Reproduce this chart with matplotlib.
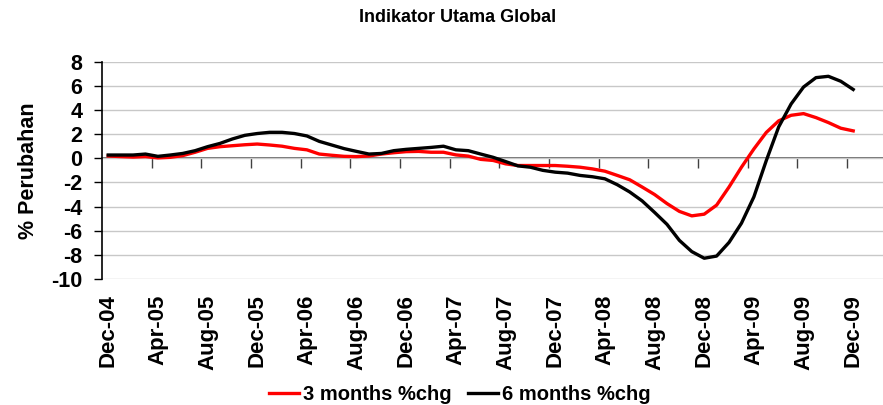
import numpy as np
import pandas as pd
import matplotlib
matplotlib.use("Agg")
import matplotlib.pyplot as plt

plt.rcParams['font.family'] = ['Liberation Sans', 'DejaVu Sans']
plt.rcParams['font.weight'] = 'bold'
plt.rcParams['axes.unicode_minus'] = False

# monthly data, Dec-04 .. Dec-09
months = pd.date_range('2004-12-01', '2009-12-01', freq='MS')

chg_3m = [0.19, 0.14, 0.10, 0.14, 0.03, 0.08, 0.22, 0.50, 0.82, 0.96,
          1.04, 1.12, 1.18, 1.10, 1.00, 0.82, 0.70, 0.35, 0.25, 0.16,
          0.14, 0.19, 0.35, 0.46, 0.55, 0.57, 0.50, 0.50, 0.28, 0.18,
          -0.09, -0.18, -0.46, -0.60, -0.60, -0.60, -0.60, -0.66, -0.74, -0.88,
          -1.07, -1.42, -1.78, -2.38, -3.00, -3.75, -4.40, -4.77, -4.63, -3.88,
          -2.38, -0.74, 0.77, 2.14, 3.10, 3.56, 3.70, 3.37, 2.96, 2.49,
          2.27]

chg_6m = [0.27, 0.27, 0.27, 0.35, 0.16, 0.27, 0.40, 0.63, 0.96, 1.23,
          1.60, 1.90, 2.05, 2.15, 2.15, 2.05, 1.85, 1.40, 1.10, 0.80,
          0.57, 0.35, 0.40, 0.63, 0.74, 0.82, 0.90, 1.00, 0.70, 0.63,
          0.35, 0.08, -0.27, -0.63, -0.74, -1.00, -1.15, -1.23, -1.42, -1.53,
          -1.70, -2.19, -2.79, -3.53, -4.48, -5.47, -6.80, -7.73, -8.28, -8.10,
          -6.97, -5.38, -3.20, -0.19, 2.60, 4.50, 5.90, 6.68, 6.79, 6.38,
          5.70]

labels = [m.strftime('%b-%y') for m in months]
x = np.arange(len(months))

fig = plt.figure(figsize=(8.83, 4.05), dpi=100)
ax = fig.add_axes([102 / 883, 1 - 279 / 405, 1 - 102 / 883, (279 - 61.7) / 405])

ax.plot(x, chg_3m, color='#ff0000', lw=2.4, label='3 months %chg', zorder=3)
ax.plot(x, chg_6m, color='black', lw=2.4, label='6 months %chg', zorder=4)

ax.set_ylim(-10, 8)
ax.set_xlim(-0.5, 62.4)
ax.set_yticks(np.arange(-10, 9, 2))
ax.yaxis.grid(True, color='#c8c8c8', lw=1)
ax.set_axisbelow(True)
ax.tick_params(axis='y', length=6, width=1, labelsize=15.5, pad=8)
for lab in ax.get_yticklabels():
    lab.set_fontweight('bold')

# category labels every 4 months at the bottom
ax.set_xticks(x[::4])
ax.set_xticklabels(labels[::4], rotation=90, fontsize=16, fontweight='bold')
ax.tick_params(axis='x', length=0, pad=11)

for s in ['top', 'right', 'bottom']:
    ax.spines[s].set_visible(False)
ax.spines['left'].set_linewidth(1.2)

# category axis crossing at zero, tick marks between categories pointing down
sec = ax.secondary_xaxis(10 / 18)
sec.set_alignment('bottom')
sec.set_xticks(x[::4][1:] - 0.5)
sec.set_xticklabels([])
sec.tick_params(length=7, width=1, color='#404040', direction='out')
sec.spines['bottom'].set_color('#505050')
sec.spines['bottom'].set_linewidth(1.2)

ax.set_ylabel('% Perubahan', fontsize=15.5, fontweight='bold')
ax.yaxis.set_label_coords(-0.081, 0.5)

fig.text(458 / 883, 1 - 18 / 405, 'Indikator Utama Global', ha='center', va='center',
         fontsize=13, fontweight='bold')

leg = fig.legend(loc='center', bbox_to_anchor=(460 / 883, 1 - 395 / 405), ncol=2,
                 frameon=False, handlelength=1.5, handletextpad=0.2,
                 columnspacing=0.8, prop={'weight': 'bold', 'size': 14.5})

fig.savefig('out.png', dpi=100)
